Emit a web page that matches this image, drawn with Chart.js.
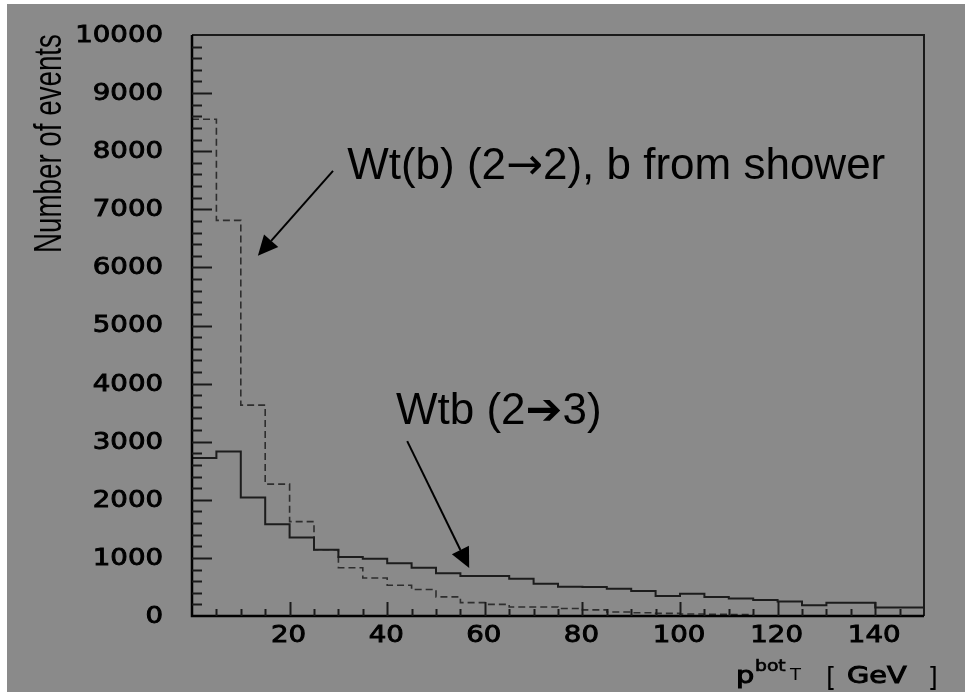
<!DOCTYPE html>
<html>
<head>
<meta charset="utf-8">
<title>b-quark pT</title>
<script src="https://cdn.jsdelivr.net/npm/chart.js@4.4.0/dist/chart.umd.min.js"></script>
<style>
  body { margin: 0; background: #ffffff; }
  #box { position: absolute; left: 0; top: 0; width: 965px; height: 692px; }
</style>
</head>
<body>
<div id="box"><canvas id="ptChart" width="965" height="692"></canvas></div>
<script>
// 5 GeV bins of p_T(bot)
var binEdges = [0, 5, 10, 15, 20, 25, 30, 35, 40, 45, 50, 55, 60, 65, 70, 75,
                80, 85, 90, 95, 100, 105, 110, 115, 120, 125, 130, 135, 140, 145, 150];

// Wtb (2->3), solid
var wtb23 = [2720, 2830, 2040, 1580, 1350, 1140, 1015, 985, 910, 830,
             735, 690, 690, 640, 555, 505, 500, 470, 430, 345,
             385, 325, 300, 275, 250, 185, 230, 230, 145, 145];

// Wt(b) (2->2), b from shower, dashed
var wtb22 = [8550, 6810, 3630, 2270, 1625, 1140, 830, 655, 530, 455,
             330, 230, 200, 155, 155, 130, 105, 70, 55, 45,
             35, 30, 25, 0, 0, 0, 0, 0, 0, 0];

var yTickLabels = [0, 1000, 2000, 3000, 4000, 5000, 6000, 7000, 8000, 9000, 10000];
var xTickLabels = [20, 40, 60, 80, 100, 120, 140];

// arrows and captions, in axis units; caption split around its arrow glyph
var notes = [
  { parts: ["Wt(b) (2", "\u2192", "2), b from shower"], x: 31.8, y: 7520, from: [28.9, 7660], to: [13.5, 6200] },
  { parts: ["Wtb (2", "\u2794", "3)"], x: 41.8, y: 3300, from: [44.1, 3010], to: [56.8, 826] }
];

function histPoints(values) {
  var pts = [];
  for (var i = 0; i < values.length; i++) {
    pts.push({ x: binEdges[i], y: values[i] });
  }
  pts.push({ x: binEdges[values.length], y: values[values.length - 1] });
  return pts;
}

// horizontally stretched text, lightly emboldened
function wideText(ctx, text, x, y, sx, align, bold) {
  ctx.save();
  ctx.translate(x, y);
  ctx.scale(sx, 1);
  ctx.textAlign = align;
  ctx.fillText(text, 0, 0);
  if (bold) {
    ctx.lineWidth = bold;
    ctx.strokeStyle = ctx.fillStyle;
    ctx.strokeText(text, 0, 0);
  }
  ctx.restore();
}

function arrow(ctx, x1, y1, x2, y2) {
  var a = Math.atan2(y2 - y1, x2 - x1);
  var len = 20, half = 9.5;
  var bx = x2 - len * Math.cos(a), by = y2 - len * Math.sin(a);
  ctx.beginPath();
  ctx.moveTo(x1, y1);
  ctx.lineTo(bx, by);
  ctx.stroke();
  ctx.beginPath();
  ctx.moveTo(x2, y2);
  ctx.lineTo(bx + half * Math.sin(a), by - half * Math.cos(a));
  ctx.lineTo(bx - half * Math.sin(a), by + half * Math.cos(a));
  ctx.closePath();
  ctx.fill();
}

var decor = {
  id: 'decor',
  beforeDraw: function (chart) {
    var ctx = chart.ctx;
    ctx.save();
    ctx.fillStyle = '#8a8a8a';
    ctx.fillRect(7, 4, chart.width - 7, chart.height - 4);
    ctx.restore();
  },
  afterDatasetsDraw: function (chart) {
    var ctx = chart.ctx;
    var ca = chart.chartArea;
    var xs = chart.scales.x, ys = chart.scales.y;
    var v, p, i;
    ctx.save();

    // frame
    ctx.strokeStyle = '#1a1a1a';
    ctx.lineWidth = 2;
    ctx.beginPath();
    ctx.moveTo(ca.left, ca.top);
    ctx.lineTo(ca.right, ca.top);
    ctx.lineTo(ca.right, ca.bottom);
    ctx.stroke();
    ctx.strokeStyle = '#000';
    ctx.lineWidth = 2.5;
    ctx.beginPath();
    ctx.moveTo(ca.left, ca.top);
    ctx.lineTo(ca.left, ca.bottom);
    ctx.lineTo(ca.right, ca.bottom);
    ctx.stroke();

    // inward ticks
    ctx.strokeStyle = '#1a1a1a';
    ctx.lineWidth = 2;
    ctx.beginPath();
    for (v = 200; v < 10000; v += 200) {
      p = Math.round(ys.getPixelForValue(v)) + 0.5;
      ctx.moveTo(ca.left, p);
      ctx.lineTo(ca.left + (v % 1000 === 0 ? 20 : 10), p);
    }
    for (v = 5; v < 150; v += 5) {
      p = Math.round(xs.getPixelForValue(v)) + 0.5;
      ctx.moveTo(p, ca.bottom);
      ctx.lineTo(p, ca.bottom - (v % 20 === 0 ? 14 : 7));
    }
    ctx.stroke();

    // tick labels
    ctx.fillStyle = '#000';
    ctx.font = '23px "DejaVu Sans"';
    ctx.textBaseline = 'middle';
    for (i = 0; i < yTickLabels.length; i++) {
      wideText(ctx, String(yTickLabels[i]), ca.left - 29, ys.getPixelForValue(yTickLabels[i]) + 1, 1.2, 'right', 0.9);
    }
    for (i = 0; i < xTickLabels.length; i++) {
      wideText(ctx, String(xTickLabels[i]), xs.getPixelForValue(xTickLabels[i]) - 1, ca.bottom + 20, 1.2, 'center', 0.9);
    }

    // axis titles
    ctx.textBaseline = 'alphabetic';
    ctx.save();
    ctx.translate(61, 253);
    ctx.rotate(-Math.PI / 2);
    ctx.scale(0.73, 1);
    ctx.font = '38px "Liberation Sans"';
    ctx.textAlign = 'left';
    ctx.fillText('Number of events', 0, 0);
    ctx.restore();

    var tx = ca.right, ty = ca.bottom;
    ctx.font = '23px "DejaVu Sans"';
    wideText(ctx, 'p', tx - 188, ty + 67, 1.25, 'left', 1);
    ctx.font = '15px "DejaVu Sans"';
    wideText(ctx, 'bot', tx - 169, ty + 55, 1.25, 'left', 0.6);
    ctx.font = '15px "DejaVu Sans"';
    wideText(ctx, 'T', tx - 134, ty + 64, 1.2, 'left', 0);
    ctx.font = '26px "DejaVu Sans"';
    wideText(ctx, '[', tx - 98, ty + 70, 1.0, 'left', 0);
    ctx.font = '23px "DejaVu Sans"';
    wideText(ctx, 'GeV', tx - 77, ty + 67, 1.25, 'left', 1);
    ctx.font = '26px "DejaVu Sans"';
    wideText(ctx, ']', tx + 14, ty + 70, 1.0, 'right', 0);

    // captions with arrows
    ctx.textAlign = 'left';
    ctx.strokeStyle = '#000';
    ctx.lineWidth = 2;
    for (i = 0; i < notes.length; i++) {
      var n = notes[i];
      var cx = xs.getPixelForValue(n.x), cy = ys.getPixelForValue(n.y);
      ctx.font = '44px "Liberation Sans"';
      ctx.fillText(n.parts[0], cx, cy);
      cx += ctx.measureText(n.parts[0]).width;
      ctx.font = '44px "DejaVu Sans"';
      ctx.fillText(n.parts[1], cx, cy);
      cx += ctx.measureText(n.parts[1]).width;
      ctx.font = '44px "Liberation Sans"';
      ctx.fillText(n.parts[2], cx, cy);
      arrow(ctx, xs.getPixelForValue(n.from[0]), ys.getPixelForValue(n.from[1]),
                 xs.getPixelForValue(n.to[0]), ys.getPixelForValue(n.to[1]));
    }
    ctx.restore();
  }
};

var ctx = document.getElementById('ptChart').getContext('2d');
var ptChart = new Chart(ctx, {
  type: 'line',
  data: {
    datasets: [
      {
        label: 'Wtb (2\u21923)',
        data: histPoints(wtb23),
        stepped: 'before',
        borderColor: '#1c1c1c',
        borderWidth: 2,
        fill: false
      },
      {
        label: 'Wt(b) (2\u21922), b from shower',
        data: histPoints(wtb22),
        stepped: 'before',
        borderColor: '#2e2e2e',
        borderWidth: 1.6,
        borderDash: [7, 4],
        fill: false
      }
    ]
  },
  options: {
    responsive: false,
    animation: false,
    layout: { padding: { left: 192, top: 35, right: 41, bottom: 76 } },
    elements: { point: { radius: 0 } },
    plugins: { legend: { display: false }, tooltip: { enabled: false } },
    scales: {
      x: { type: 'linear', min: 0, max: 150, display: false },
      y: { min: 0, max: 10000, display: false }
    }
  },
  plugins: [decor]
});
</script>
</body>
</html>
